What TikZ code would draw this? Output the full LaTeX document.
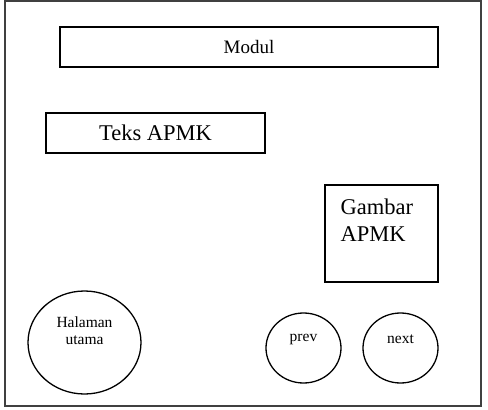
\documentclass[tikz,border=0pt]{standalone}
\usepackage{fontspec}
\setmainfont{Liberation Serif}
\usetikzlibrary{shapes.geometric,calc}

\begin{document}
\begin{tikzpicture}[x=1pt,y=-1pt,
  kotak/.style={draw, line width=1.3pt, inner sep=0pt},
  tombol/.style={draw, ellipse, line width=1.3pt, inner sep=0pt},
  teks/.style={inner sep=0pt, align=center, font=\fontsize{15.5}{16.5}\selectfont}]

\useasboundingbox (0,0) rectangle (488,410);
\draw[line width=1.5pt, black!75] (5,1) rectangle (481,406);

\node[kotak, minimum width=378pt, minimum height=40pt, font=\fontsize{19}{22}\selectfont] (modul) at (249,47) {Modul};
\node[kotak, minimum width=219pt, minimum height=40pt, font=\fontsize{22.5}{26}\selectfont] (teks) at (155.5,133) {Teks APMK};

\node[kotak, minimum width=113pt, minimum height=97pt] (gambar) at (381.5,233.5) {};
\node[inner sep=0pt, anchor=north west, align=left, font=\fontsize{22.5}{27.5}\selectfont] (gambartxt) at ($(gambar.north west)+(16,14)$) {Gambar\\APMK};

\node[tombol, minimum width=113pt, minimum height=103pt] (utama) at (84.5,342.5) {};
\node[teks] (utamatxt) at ([yshift=12pt]utama.center) {Halaman\\utama};

\node[tombol, minimum width=75pt, minimum height=70pt] (prev) at (303.5,348) {};
\node[teks] (prevtxt) at ([yshift=8.5pt]prev.center) {prev};

\node[tombol, minimum width=75pt, minimum height=70pt] (next) at (400.5,348) {};
\node[teks] (nexttxt) at ([yshift=8.5pt]next.center) {next};

\end{tikzpicture}
\end{document}
